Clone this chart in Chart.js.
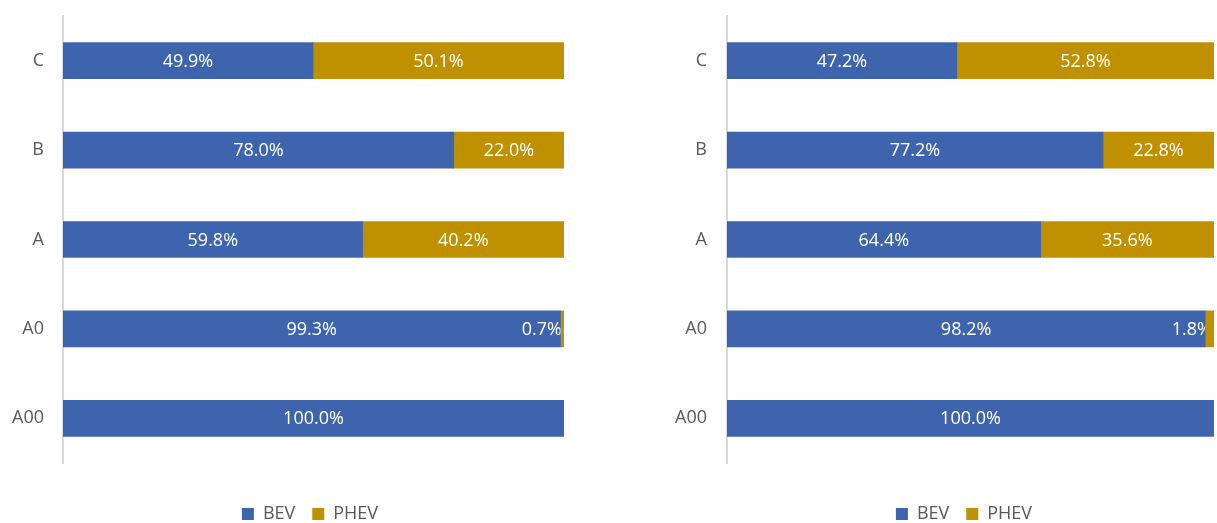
<!DOCTYPE html>
<html>
<head>
<meta charset="utf-8">
<script src="https://cdn.jsdelivr.net/npm/chart.js@4.4.1/dist/chart.umd.min.js"></script>
<style>
  html, body { margin: 0; padding: 0; background: #fff; overflow: hidden; width: 1217px; height: 523px; }
  .wrap { position: absolute; top: 0; height: 523px; overflow: hidden; }
  canvas { display: block; }
</style>
</head>
<body>
<div class="wrap" style="left:0;width:620px"><canvas id="leftChart" width="620" height="533"></canvas></div>
<div class="wrap" style="left:620px;width:597px"><canvas id="rightChart" width="597" height="533"></canvas></div>
<script>
// Vehicle classes, top to bottom
const categories = ['C', 'B', 'A', 'A0', 'A00'];
const seriesNames = ['BEV', 'PHEV'];

// Share of each powertrain per class (%), first panel
const leftBEV  = [49.9, 78.0, 59.8, 99.3, 100.0];
const leftPHEV = [50.1, 22.0, 40.2, 0.7, 0.0];

// Share of each powertrain per class (%), second panel
const rightBEV  = [47.2, 77.2, 64.4, 98.2, 100.0];
const rightPHEV = [52.8, 22.8, 35.6, 1.8, 0.0];

const seriesColors = ['#3F64AE', '#BF9000'];
const textGray = '#595959';
const FONT = 'Open Sans';

// Writes each segment's percentage inside it; a label wider than its
// segment sits against the bar end and is cut at the segment's start.
const segmentLabels = {
  id: 'segmentLabels',
  afterDatasetsDraw(chart) {
    const { ctx, chartArea } = chart;
    ctx.save();
    ctx.font = '18px "' + FONT + '"';
    ctx.fillStyle = '#ffffff';
    ctx.textBaseline = 'middle';
    chart.data.datasets.forEach((ds, di) => {
      const meta = chart.getDatasetMeta(di);
      meta.data.forEach((bar, i) => {
        const v = ds.data[i];
        if (!v) return;
        const text = v.toFixed(1) + '%';
        const l = Math.min(bar.x, bar.base);
        const r = Math.max(bar.x, bar.base);
        const w = ctx.measureText(text).width;
        ctx.save();
        if (w > r - l) {
          ctx.beginPath();
          ctx.rect(chartArea.left, bar.y - 25, l - chartArea.left, 50);
          ctx.clip();
          ctx.textAlign = 'right';
          ctx.fillText(text, chartArea.right - 2, bar.y + 1);
        } else {
          ctx.textAlign = 'center';
          ctx.fillText(text, (l + r) / 2, bar.y + 1);
        }
        ctx.restore();
      });
    });
    ctx.restore();
  }
};

// Nudges the legend sideways by a few pixels after layout
const legendShift = {
  id: 'legendShift',
  afterLayout(chart, args, opts) {
    const lg = chart.legend;
    if (lg && opts && opts.dx) { lg.left += opts.dx; lg.right += opts.dx; }
  }
};

function makeChart(id, bev, phev, padRight, axisWidth, tickPad, legendDx) {
  return new Chart(document.getElementById(id), {
    type: 'bar',
    data: {
      labels: categories,
      datasets: [
        { label: seriesNames[0], data: bev, backgroundColor: seriesColors[0], borderWidth: 0, barThickness: 36 },
        { label: seriesNames[1], data: phev, backgroundColor: seriesColors[1], borderWidth: 0, barThickness: 36 }
      ]
    },
    options: {
      indexAxis: 'y',
      responsive: false,
      animation: false,
      layout: { padding: { left: 0, right: padRight, top: 16, bottom: 0 } },
      scales: {
        x: {
          stacked: true, min: 0, max: 100,
          ticks: { display: false },
          grid: { display: false, drawTicks: false },
          border: { display: false },
          afterFit(scale) { scale.height = 25; }
        },
        y: {
          stacked: true,
          grid: { display: false, drawTicks: false },
          border: { display: true, color: '#D9D9D9', width: 2 },
          ticks: { color: textGray, font: { family: FONT, size: 18 }, padding: tickPad },
          afterFit(scale) {
            scale.width = axisWidth;
            scale.paddingTop = 0;
            scale.paddingBottom = 0;
          }
        }
      },
      plugins: {
        legend: {
          position: 'bottom',
          fullSize: false,
          labels: {
            boxWidth: 12, boxHeight: 12, padding: 17,
            color: textGray, font: { family: FONT, size: 18 }
          }
        },
        legendShift: { dx: legendDx },
        tooltip: { enabled: false }
      }
    },
    plugins: [segmentLabels, legendShift]
  });
}

makeChart('leftChart', leftBEV, leftPHEV, 56, 63, 19, -3.5);
makeChart('rightChart', rightBEV, rightPHEV, 3, 107, 20, -6.5);
</script>
</body>
</html>
